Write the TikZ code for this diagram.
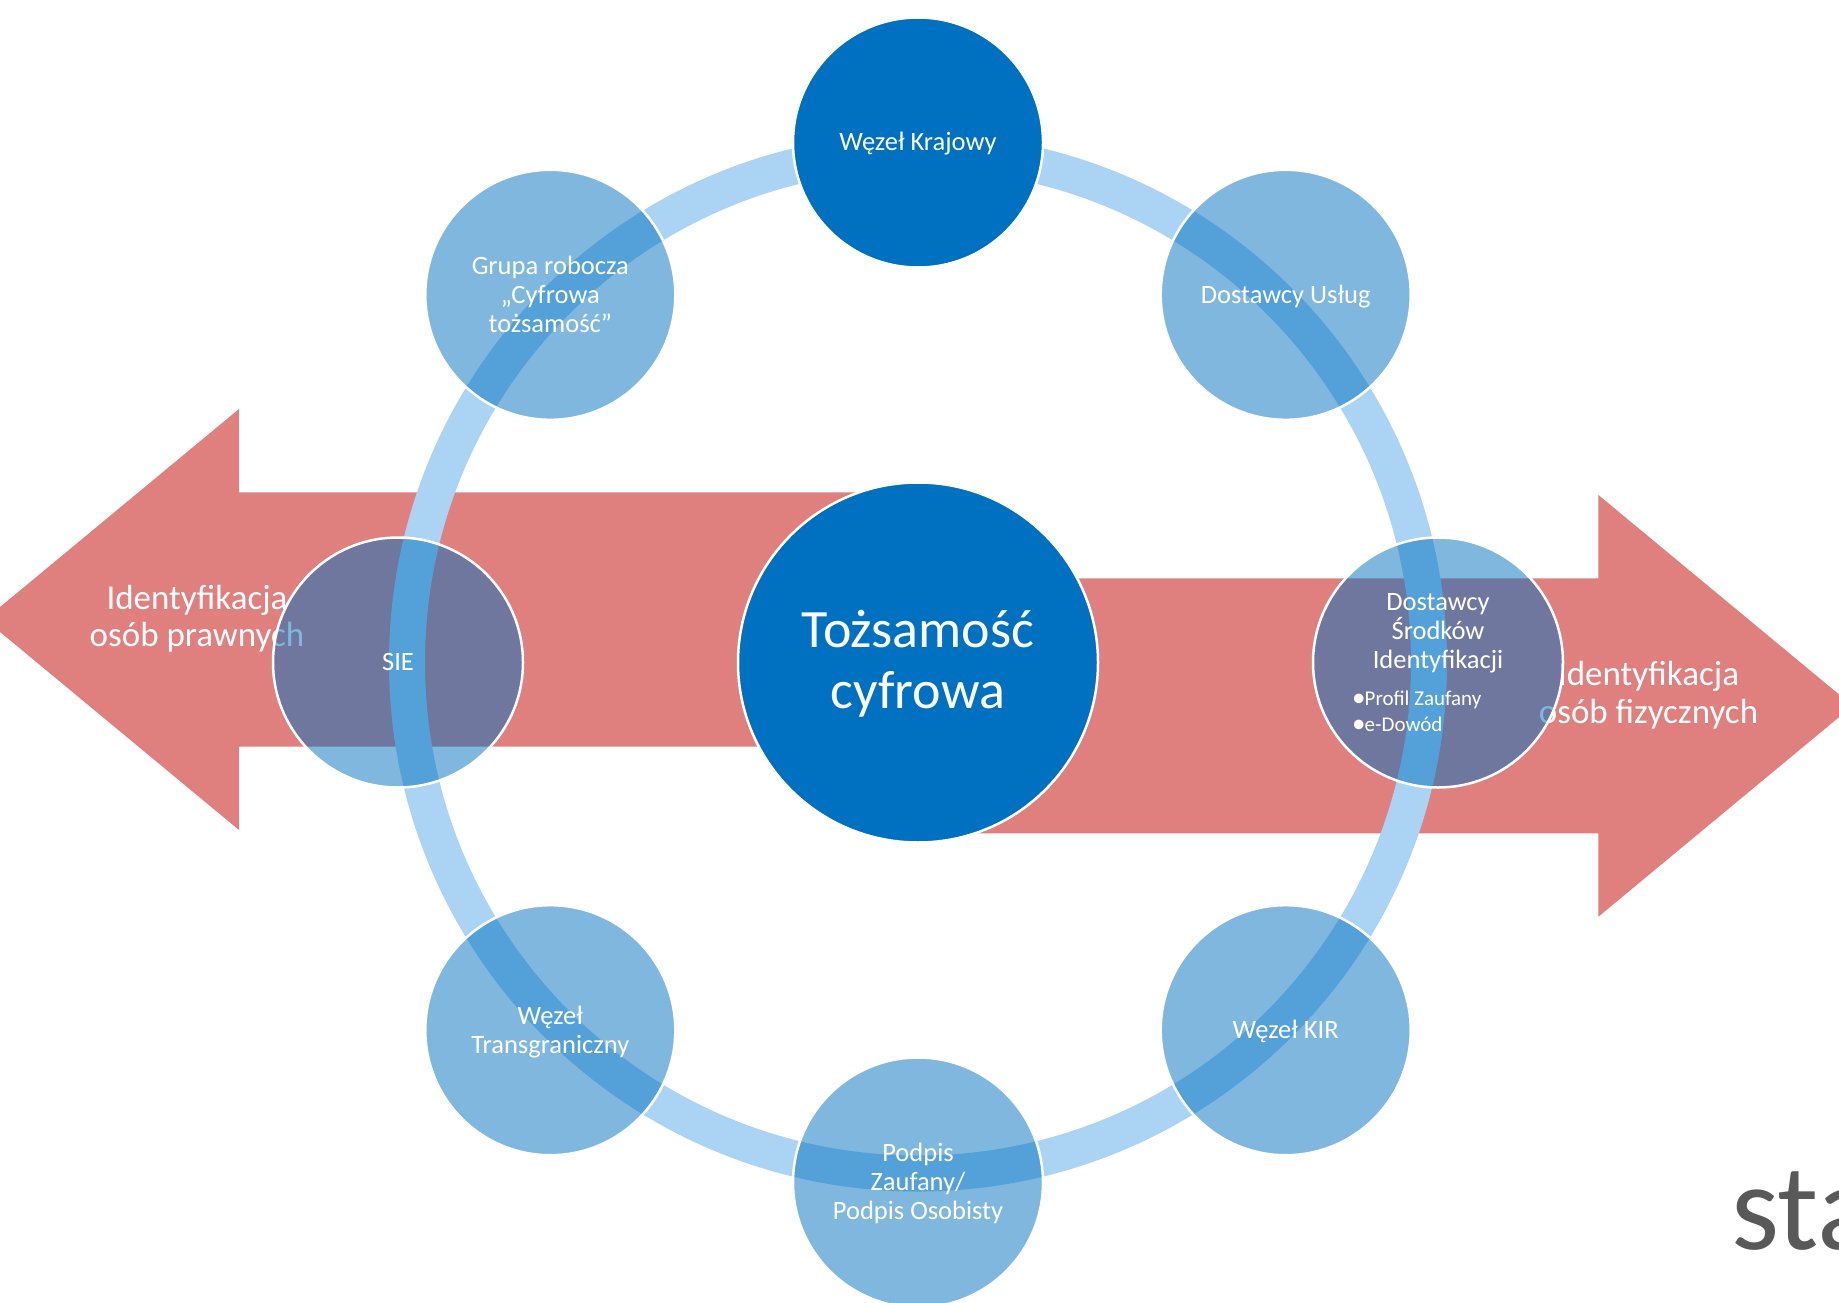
\documentclass[tikz,border=0pt]{standalone}
\usepackage{fontspec}
\setmainfont{Carlito}
\definecolor{arrowpink}{HTML}{DF7F7E}
\definecolor{ringblue}{HTML}{AAD3F4}
\definecolor{nodeblue}{HTML}{0070C0}
\definecolor{grayc}{HTML}{595959}
\newcommand{\mybul}{\makebox[12.5pt][l]{\fontsize{27}{26}\selectfont\raisebox{-1pt}{•}}}
\begin{document}
\begin{tikzpicture}[x=1pt,y=-1pt,
  arrowshape/.style={fill=arrowpink, draw=none},
  arrowtext/.style={text=white, font=\fontsize{35}{37.5}\selectfont, align=center, inner sep=0pt, anchor=base},
  bubble/.style={circle, minimum size=250pt, inner sep=0pt, draw=white, line width=2.5pt, fill=nodeblue, fill opacity=0.5},
  hub/.style={circle, inner sep=0pt, draw=white, line width=2.5pt, fill=nodeblue},
  bubbletext/.style={text=white, font=\fontsize{26.5}{29}\selectfont, align=center, inner sep=0pt, anchor=base},
  bullettext/.style={text=white, font=\fontsize{21}{26}\selectfont, align=left, inner sep=0pt, anchor=base west},
  ring/.style={draw=ringblue, line width=36pt}
]
\useasboundingbox (0,0) rectangle (1839,1303);
\clip (0,0) rectangle (1839,1303);
\coordinate (C) at (918,662.5);

% arrows
\draw[arrowshape] (918,492.3) -- (239,492.3) -- (239,409) -- (-15,619.5) -- (239,830) -- (239,746.7) -- (918,746.7) -- cycle;
\draw[arrowshape] (918,578.3) -- (1598.4,578.3) -- (1598.4,495) -- (1852.7,705.8) -- (1598.4,916.7) -- (1598.4,833.3) -- (918,833.3) -- cycle;
\node[arrowtext] (lefttext) at (197,646.7) {Identyfikacja\\osób prawnych};
\node[arrowtext] (righttext) at (1648.5,723.3) {Identyfikacja\\osób fizycznych};

% ring
\draw[ring] (C) circle[radius=511pt];

% circles
\node[hub, minimum size=250pt] (top) at (918,142.5) {};
\node[bubble] (tr) at (1285.7,294.8) {};
\node[bubble] (r) at (1438,662.5) {};
\node[bubble] (br) at (1285.7,1030.2) {};
\node[bubble] (b) at (918,1182.5) {};
\node[bubble] (bl) at (550.3,1030.2) {};
\node[bubble] (l) at (398,662.5) {};
\node[bubble] (tl) at (550.3,294.8) {};
\node[hub, minimum size=360pt] (core) at (C) {};

% texts (anchor base = baseline of the last line)
\node[bubbletext] (ttop) at (918,150.7) {Węzeł Krajowy};
\node[bubbletext] (ttr) at (1285.7,303) {Dostawcy Usług};
\node[bubbletext] (tr1) at (1438,668.3) {Dostawcy\\Środków\\Identyfikacji};
\node[bullettext] (tr2) at (1352,731.7) {\mybul Profil Zaufany\\\mybul e-Dowód};
\node[bubbletext] (tbr) at (1285.7,1038.4) {Węzeł KIR};
\node[bubbletext] (tb) at (918,1219) {Podpis\\Zaufany/\\Podpis Osobisty};
\node[bubbletext] (tbl) at (550.3,1053) {Węzeł\\Transgraniczny};
\node[bubbletext] (tl1) at (398,670) {SIE};
\node[bubbletext] (ttl) at (550.3,332) {Grupa robocza\\„Cyfrowa\\tożsamość”};
\node[text=white, font=\fontsize{54}{61}\selectfont, align=center, inner sep=0pt, anchor=base] (tcore) at (918,708.3) {Tożsamość\\cyfrowa};

\node[text=grayc, font=\fontsize{123}{130}\selectfont, inner sep=0pt, anchor=base west] (sta) at (1731,1249.3) {sta};
\end{tikzpicture}
\end{document}
